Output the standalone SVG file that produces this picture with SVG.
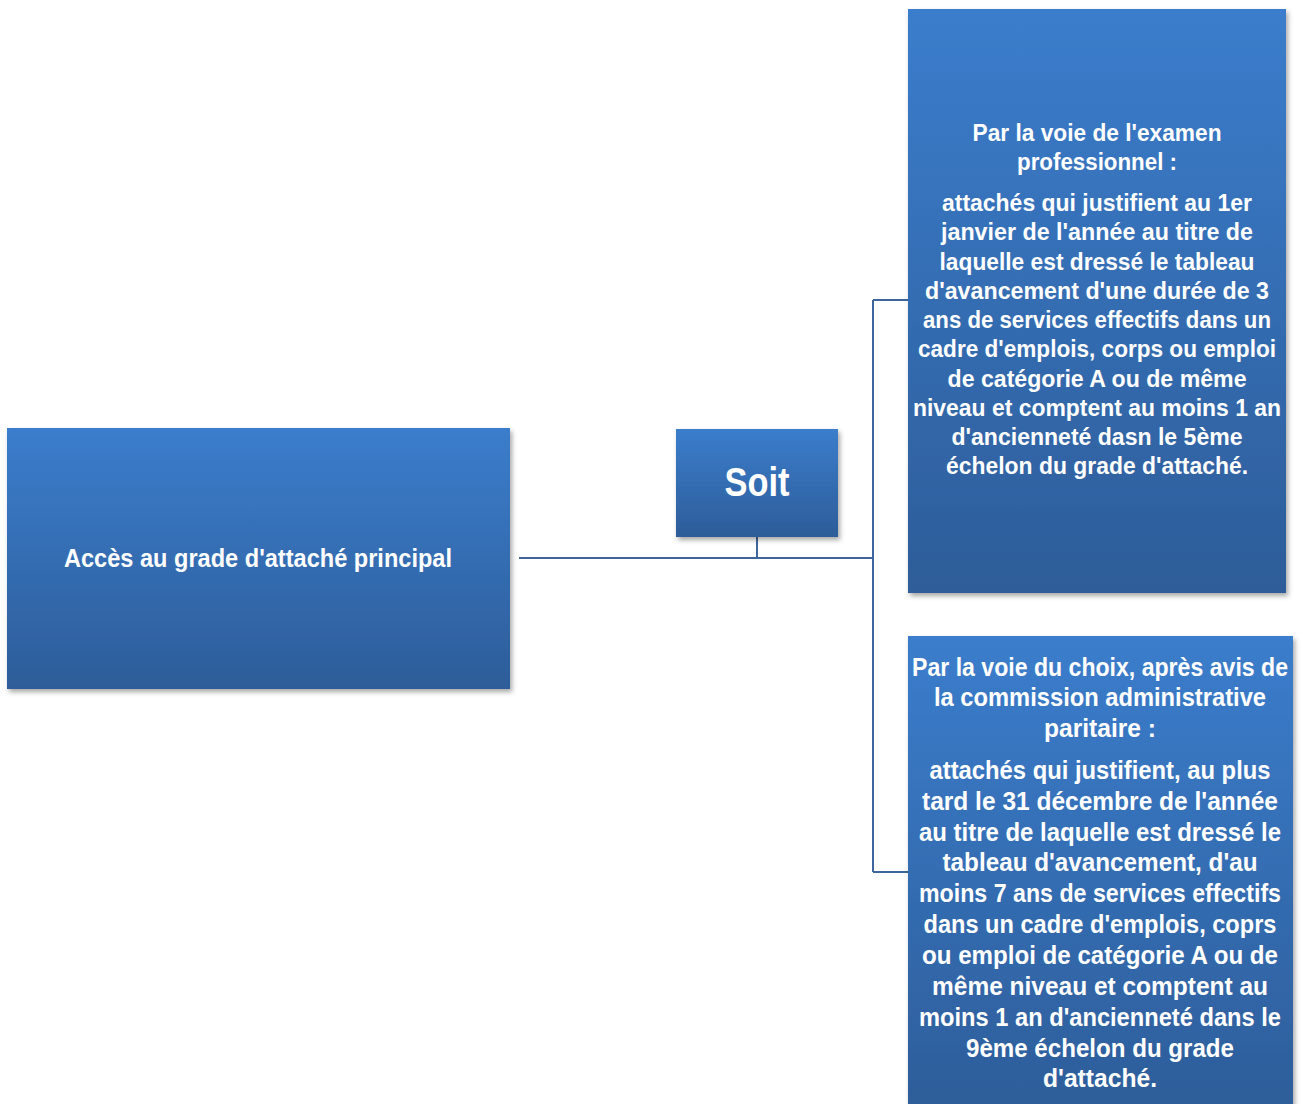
<svg xmlns="http://www.w3.org/2000/svg" width="1303" height="1104" viewBox="0 0 1303 1104">
<style>
.box{fill:url(#g);filter:url(#sh)}
.t{font-family:"Liberation Sans",Arial,sans-serif;font-weight:bold;fill:#fff;text-anchor:middle}
.c{fill:none;stroke:#3d679c;stroke-width:2}
</style>
<defs>
<linearGradient id="g" x1="0" y1="0" x2="0" y2="1">
<stop offset="0" stop-color="#3b7dcc"/>
<stop offset="1" stop-color="#2d5d99"/>
</linearGradient>
<filter id="sh" x="-5%" y="-5%" width="115%" height="115%">
<feDropShadow dx="2" dy="3" stdDeviation="2.5" flood-color="#000" flood-opacity="0.35"/>
</filter>
</defs>
<rect width="1303" height="1104" fill="#fff"/>
<g id="connectors">
<path class="c" d="M519 558H873"/>
<path class="c" d="M757 537V558"/>
<path class="c" d="M873 300V872"/>
<path class="c" d="M873 300H908"/>
<path class="c" d="M873 872H908"/>
</g>
<g id="node-acces">
<rect class="box" x="7" y="428" width="503" height="261"/>
<text class="t" x="258" y="567" font-size="26" textLength="388" lengthAdjust="spacingAndGlyphs">Accès au grade d'attaché principal</text>
</g>
<g id="node-soit">
<rect class="box" x="676" y="429" width="162" height="108"/>
<text class="t" x="757" y="496" font-size="40" textLength="65" lengthAdjust="spacingAndGlyphs">Soit</text>
</g>
<g id="node-examen">
<rect class="box" x="908" y="9" width="378" height="584"/>
<g class="t" font-size="23">
<text x="1097" y="141" textLength="249" lengthAdjust="spacingAndGlyphs">Par la voie de l'examen</text>
<text x="1097" y="170" textLength="160" lengthAdjust="spacingAndGlyphs">professionnel :</text>
<text x="1097" y="211" textLength="310" lengthAdjust="spacingAndGlyphs">attachés qui justifient au 1er</text>
<text x="1097" y="240" textLength="312" lengthAdjust="spacingAndGlyphs">janvier de l'année au titre de</text>
<text x="1097" y="270" textLength="315" lengthAdjust="spacingAndGlyphs">laquelle est dressé le tableau</text>
<text x="1097" y="299" textLength="344" lengthAdjust="spacingAndGlyphs">d'avancement d'une durée de 3</text>
<text x="1097" y="328" textLength="348" lengthAdjust="spacingAndGlyphs">ans de services effectifs dans un</text>
<text x="1097" y="357" textLength="358" lengthAdjust="spacingAndGlyphs">cadre d'emplois, corps ou emploi</text>
<text x="1097" y="387" textLength="299" lengthAdjust="spacingAndGlyphs">de catégorie A ou de même</text>
<text x="1097" y="416" textLength="368" lengthAdjust="spacingAndGlyphs">niveau et comptent au moins 1 an</text>
<text x="1097" y="445" textLength="291" lengthAdjust="spacingAndGlyphs">d'ancienneté dasn le 5ème</text>
<text x="1097" y="474" textLength="302" lengthAdjust="spacingAndGlyphs">échelon du grade d'attaché.</text>
</g>
</g>
<g id="node-choix">
<rect class="box" x="908" y="636" width="385" height="480"/>
<g class="t" font-size="25">
<text x="1100" y="676" textLength="376" lengthAdjust="spacingAndGlyphs">Par la voie du choix, après avis de</text>
<text x="1100" y="706" textLength="332" lengthAdjust="spacingAndGlyphs">la commission administrative</text>
<text x="1100" y="737" textLength="112" lengthAdjust="spacingAndGlyphs">paritaire :</text>
<text x="1100" y="779" textLength="341" lengthAdjust="spacingAndGlyphs">attachés qui justifient, au plus</text>
<text x="1100" y="810" textLength="356" lengthAdjust="spacingAndGlyphs">tard le 31 décembre de l'année</text>
<text x="1100" y="841" textLength="362" lengthAdjust="spacingAndGlyphs">au titre de laquelle est dressé le</text>
<text x="1100" y="871" textLength="315" lengthAdjust="spacingAndGlyphs">tableau d'avancement, d'au</text>
<text x="1100" y="902" textLength="362" lengthAdjust="spacingAndGlyphs">moins 7 ans de services effectifs</text>
<text x="1100" y="933" textLength="353" lengthAdjust="spacingAndGlyphs">dans un cadre d'emplois, coprs</text>
<text x="1100" y="964" textLength="356" lengthAdjust="spacingAndGlyphs">ou emploi de catégorie A ou de</text>
<text x="1100" y="995" textLength="336" lengthAdjust="spacingAndGlyphs">même niveau et comptent au</text>
<text x="1100" y="1026" textLength="362" lengthAdjust="spacingAndGlyphs">moins 1 an d'ancienneté dans le</text>
<text x="1100" y="1057" textLength="268" lengthAdjust="spacingAndGlyphs">9ème échelon du grade</text>
<text x="1100" y="1087" textLength="114" lengthAdjust="spacingAndGlyphs">d'attaché.</text>
</g>
</g>
</svg>
